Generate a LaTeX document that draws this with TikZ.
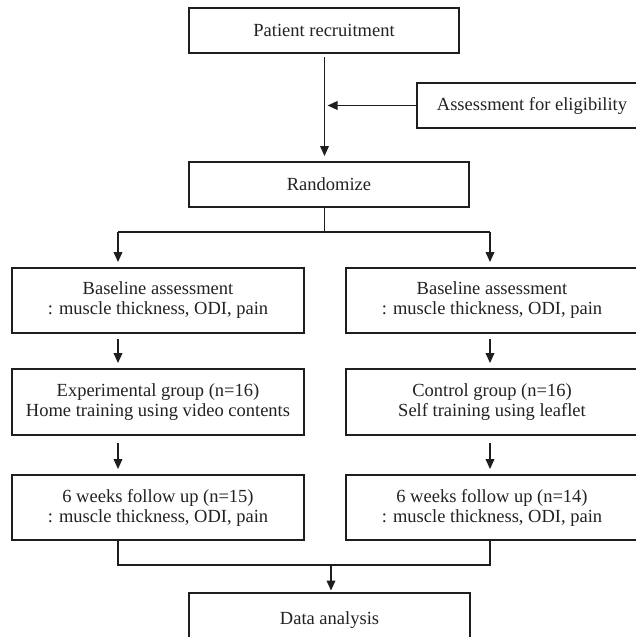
\documentclass[tikz,border=0pt]{standalone}
\usepackage{fontspec}
\setmainfont{Liberation Serif}
\usetikzlibrary{arrows.meta}
\definecolor{ink}{HTML}{1E1E1E}
\definecolor{txt}{HTML}{222222}
\begin{document}
\begin{tikzpicture}[x=1pt,y=-1pt,
  box/.style={draw=ink,line width=1.8pt,rectangle,inner sep=0pt,align=center,
    text=txt,font=\fontsize{18.5}{20}\selectfont},
  conn/.style={draw=ink,line width=1.8pt},
  arr/.style={conn,-{Triangle[length=10pt,width=8.5pt]}}]
\clip (0,0) rectangle (636,637);
\fill[white] (0,0) rectangle (636,637);
% nodes
\node[box,minimum width=270pt,minimum height=45pt] (pat) at (324,30.5) {Patient recruitment};
\node[box,minimum width=230pt,minimum height=45pt] (elig) at (532,105.5) {Assessment for eligibility};
\node[box,minimum width=280pt,minimum height=45pt] (rand) at (329,184.5) {Randomize};
\node[box,minimum width=292pt,minimum height=65pt] (baseL) at (158,300.5) {Baseline assessment\\: muscle thickness, ODI, pain};
\node[box,minimum width=292pt,minimum height=65pt] (baseR) at (492,300.5) {Baseline assessment\\: muscle thickness, ODI, pain};
\node[box,minimum width=292pt,minimum height=66pt] (expL) at (158,402) {Experimental group (n=16)\\Home training using video contents};
\node[box,minimum width=292pt,minimum height=66pt] (ctlR) at (492,402) {Control group (n=16)\\Self training using leaflet};
\node[box,minimum width=292pt,minimum height=65pt] (fuL) at (158,507.5) {6 weeks follow up (n=15)\\: muscle thickness, ODI, pain};
\node[box,minimum width=292pt,minimum height=65pt] (fuR) at (492,507.5) {6 weeks follow up (n=14)\\: muscle thickness, ODI, pain};
\node[box,minimum width=281pt,minimum height=54pt] (data) at (329.5,620) {Data analysis};
% coordinates
\coordinate (top) at (324.5,53);
\coordinate (splitC) at (324.5,232);
\coordinate (splitL) at (118,232);
\coordinate (splitR) at (490,232);
\coordinate (mL) at (118,565);
\coordinate (mR) at (490,565);
\coordinate (mC) at (331,565);
% connectors
\draw[arr,shorten <=4pt,shorten >=5pt] (top) -- (top |- rand.north);
\draw[arr,shorten >=3pt] (elig.west) -- (top |- elig.west);
\draw[conn] (top |- rand.south) -- (splitC);
\draw[conn] (splitL) -- (splitR);
\draw[arr,shorten >=5pt] (splitL) -- (splitL |- baseL.north);
\draw[arr,shorten >=5pt] (splitR) -- (splitR |- baseR.north);
\draw[arr,shorten <=5pt,shorten >=5pt] (splitL |- baseL.south) -- (splitL |- expL.north);
\draw[arr,shorten <=5pt,shorten >=5pt] (splitR |- baseR.south) -- (splitR |- ctlR.north);
\draw[arr,shorten <=7pt,shorten >=5pt] (splitL |- expL.south) -- (splitL |- fuL.north);
\draw[arr,shorten <=7pt,shorten >=5pt] (splitR |- ctlR.south) -- (splitR |- fuR.north);
\draw[conn] (mL |- fuL.south) -- (mL) -- (mR) -- (mR |- fuR.south);
\draw[arr,shorten >=1.5pt] (mC) -- (mC |- data.north);
\end{tikzpicture}
\end{document}
